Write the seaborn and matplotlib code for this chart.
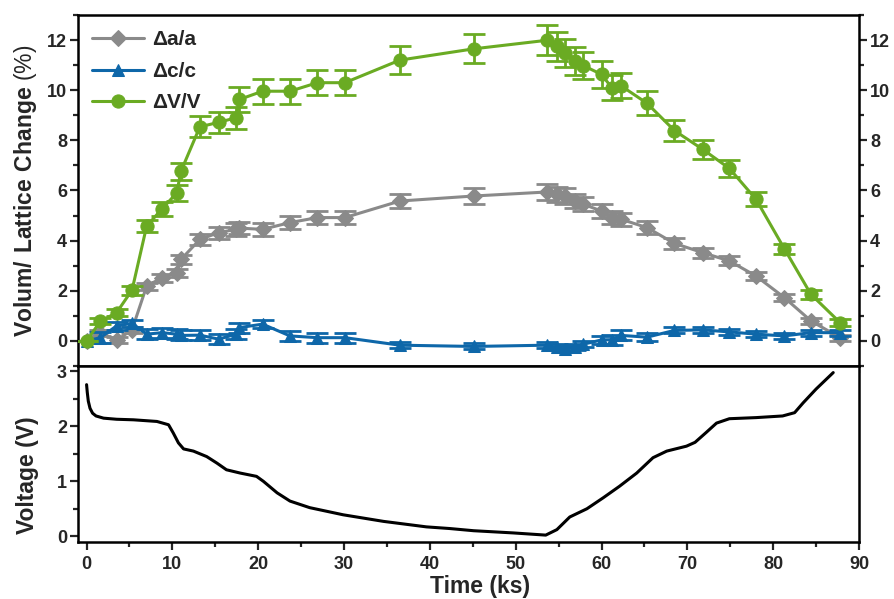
import numpy as np
import pandas as pd
import matplotlib
matplotlib.use("Agg")
import matplotlib.pyplot as plt
from matplotlib.ticker import MultipleLocator
import seaborn as sns

# ---------------- data ----------------
time_ks = [0, 1.6, 3.5, 5.3, 7.0, 8.8, 10.5, 11.0, 13.2, 15.4,
           17.4, 17.8, 20.5, 23.7, 26.9, 30.1, 36.5, 45.1, 53.6, 54.8,
           55.7, 56.9, 57.9, 60.0, 61.2, 62.3, 65.3, 68.5, 71.8, 74.9,
           78.0, 81.3, 84.4, 87.8]
da_a = [0, 0.33, 0.02, 0.45, 2.19, 2.52, 2.72, 3.25, 4.05, 4.32,
        4.45, 4.50, 4.45, 4.72, 4.92, 4.92, 5.58, 5.78, 5.94, 5.85,
        5.78, 5.58, 5.45, 5.18, 4.92, 4.85, 4.52, 3.89, 3.52, 3.19,
        2.59, 1.73, 0.80, 0.13]
dc_c = [0, 0.13, 0.60, 0.70, 0.27, 0.33, 0.27, 0.22, 0.23, 0.07,
        0.27, 0.53, 0.67, 0.20, 0.13, 0.13, -0.17, -0.22, -0.17, -0.26,
        -0.33, -0.26, -0.13, 0.04, 0.05, 0.22, 0.15, 0.42, 0.44, 0.36,
        0.27, 0.20, 0.33, 0.33]
dV_V = [0, 0.78, 1.13, 2.03, 4.58, 5.27, 5.90, 6.77, 8.54, 8.72,
        8.90, 9.63, 9.96, 9.96, 10.30, 10.30, 11.20, 11.65, 11.99, 11.75,
        11.49, 11.16, 10.98, 10.63, 10.10, 10.17, 9.48, 8.39, 7.64, 6.88,
        5.65, 3.68, 1.86, 0.73]
err_a = [0, 0.12, 0.12, 0.12, 0.14, 0.15, 0.16, 0.18, 0.22, 0.24,
         0.25, 0.25, 0.25, 0.26, 0.27, 0.27, 0.29, 0.30, 0.30, 0.30,
         0.30, 0.29, 0.28, 0.27, 0.26, 0.26, 0.25, 0.22, 0.20, 0.18,
         0.15, 0.13, 0.12, 0.12]
err_c = [0, 0.22, 0.15, 0.15, 0.2, 0.2, 0.2, 0.2, 0.2, 0.2,
         0.2, 0.2, 0.15, 0.2, 0.2, 0.2, 0.12, 0.12, 0.12, 0.12,
         0.12, 0.12, 0.12, 0.15, 0.2, 0.2, 0.15, 0.12, 0.12, 0.12,
         0.12, 0.12, 0.12, 0.12]
err_V = [0, 0.12, 0.14, 0.18, 0.25, 0.27, 0.30, 0.34, 0.42, 0.43,
         0.45, 0.48, 0.50, 0.50, 0.50, 0.50, 0.56, 0.58, 0.60, 0.58,
         0.57, 0.56, 0.55, 0.53, 0.50, 0.50, 0.47, 0.42, 0.38, 0.34,
         0.28, 0.20, 0.17, 0.15]

volt_t = [0, 0.08, 0.2, 0.4, 0.7, 1.1, 1.98, 3.5, 5.47, 8.2, 9.55, 10.1,
          10.7, 11.3, 12.45, 14.0, 15.2, 16.3, 17.9, 19.8, 20.6, 22.2,
          23.7, 26.0, 29.9, 34.6, 39.6, 42.3, 45.1, 49.7, 53.5, 54.8,
          56.3, 58.3, 60.2, 62.1, 64.1, 66.0, 67.6, 69.9, 70.9, 72.2,
          73.4, 74.9, 78.0, 81.1, 82.5, 83.5, 85.0, 87.0]
volt_v = [2.76, 2.62, 2.46, 2.33, 2.24, 2.19, 2.15, 2.13, 2.12, 2.09,
          2.03, 1.88, 1.70, 1.59, 1.55, 1.45, 1.33, 1.21, 1.15, 1.09,
          1.00, 0.79, 0.64, 0.52, 0.39, 0.27, 0.17, 0.14, 0.10, 0.06,
          0.02, 0.12, 0.35, 0.50, 0.70, 0.91, 1.15, 1.43, 1.55, 1.64,
          1.71, 1.89, 2.06, 2.14, 2.16, 2.19, 2.25, 2.43, 2.68, 2.98]

labels = ["\u0394a/a", "\u0394c/c", "\u0394V/V"]
colors = ["#8a8a8a", "#0e67a9", "#6aab23"]
markers = ["D", "^", "o"]

# ---------------- style ----------------
sns.set_theme(style="ticks")
plt.rcParams["font.family"] = ["Liberation Sans", "DejaVu Sans"]
plt.rcParams["font.weight"] = "bold"
plt.rcParams["mathtext.fontset"] = "custom"
plt.rcParams["mathtext.rm"] = "Liberation Sans"
plt.rcParams["mathtext.bf"] = "Liberation Sans:bold"

fig = plt.figure(figsize=(8.95, 5.99), dpi=100)
ax1 = fig.add_axes([0.08715, 0.38898, 0.8726, 0.58598])
ax2 = fig.add_axes([0.08715, 0.09566, 0.8726, 0.29332], sharex=ax1)

series = [da_a, dc_c, dV_V]
errs = [err_a, err_c, err_V]
sizes = [8, 9, 9.5]
for i, (y, e) in enumerate(zip(series, errs)):
    ax1.errorbar(time_ks, y, yerr=e, fmt="none", ecolor=colors[i],
                 elinewidth=2, capsize=8, capthick=2, zorder=2 + i)
    df = pd.DataFrame({"t": time_ks, "v": y})
    sns.lineplot(data=df, x="t", y="v", ax=ax1, color=colors[i],
                 marker=markers[i], markersize=sizes[i],
                 markeredgecolor=colors[i], linewidth=2.2,
                 label=labels[i], zorder=2.5 + i)

dfv = pd.DataFrame({"t": volt_t, "v": volt_v})
sns.lineplot(data=dfv, x="t", y="v", ax=ax2, color="black", linewidth=2.2)

# ---------------- axes ----------------
ax1.set_xlim(-1, 90)
ax1.set_ylim(-1, 13)
ax2.set_ylim(-0.1, 3.1)

for ax in (ax1, ax2):
    for sp in ax.spines.values():
        sp.set_linewidth(1.8)
        sp.set_color("black")

ax1.yaxis.set_major_locator(MultipleLocator(2))
ax1.yaxis.set_minor_locator(MultipleLocator(1))
ax2.xaxis.set_major_locator(MultipleLocator(10))
ax2.xaxis.set_minor_locator(MultipleLocator(5))
ax2.yaxis.set_major_locator(MultipleLocator(1))
ax2.yaxis.set_minor_locator(MultipleLocator(0.5))

ax1.tick_params(axis="y", which="both", left=True, right=True,
                labelleft=True, labelright=True, direction="out",
                width=1.6, labelsize=13, pad=2)
ax1.tick_params(axis="y", which="major", length=6)
ax1.tick_params(axis="y", which="minor", length=3.5)
ax1.tick_params(axis="x", which="both", bottom=True, top=False,
                labelbottom=False, direction="out", width=1.6)
ax1.tick_params(axis="x", which="major", length=5)
ax1.tick_params(axis="x", which="minor", length=4)

ax2.tick_params(axis="both", which="both", direction="out", width=1.6,
                labelsize=13, pad=2, top=False, right=False)
ax2.tick_params(axis="both", which="major", length=6)
ax2.tick_params(axis="both", which="minor", length=3.5)
ax2.tick_params(axis="x", pad=4)

for lab in ax1.get_yticklabels() + ax2.get_yticklabels() + ax2.get_xticklabels():
    lab.set_fontweight("bold")

ax1.set_xlabel("")
ax1.set_ylabel(r"$\mathbf{Volum/\ Lattice\ Change}$ (%)", fontsize=16.5,
               fontweight="normal")
ax1.yaxis.set_label_coords(-0.05, 0.5)
ax2.set_ylabel("Voltage (V)", fontsize=16.5, fontweight="bold")
ax2.yaxis.set_label_coords(-0.05, 0.38)
ax2.set_xlabel("Time (ks)", fontsize=16.5, fontweight="bold")
ax2.xaxis.set_label_coords(0.515, -0.19)

leg = ax1.legend(loc="upper left", bbox_to_anchor=(0.007, 0.98),
                 frameon=False, handlelength=2.5, labelspacing=0.6,
                 handletextpad=0.4, borderaxespad=0,
                 prop={"weight": "bold", "size": 15})

fig.savefig("out.png", dpi=100)
